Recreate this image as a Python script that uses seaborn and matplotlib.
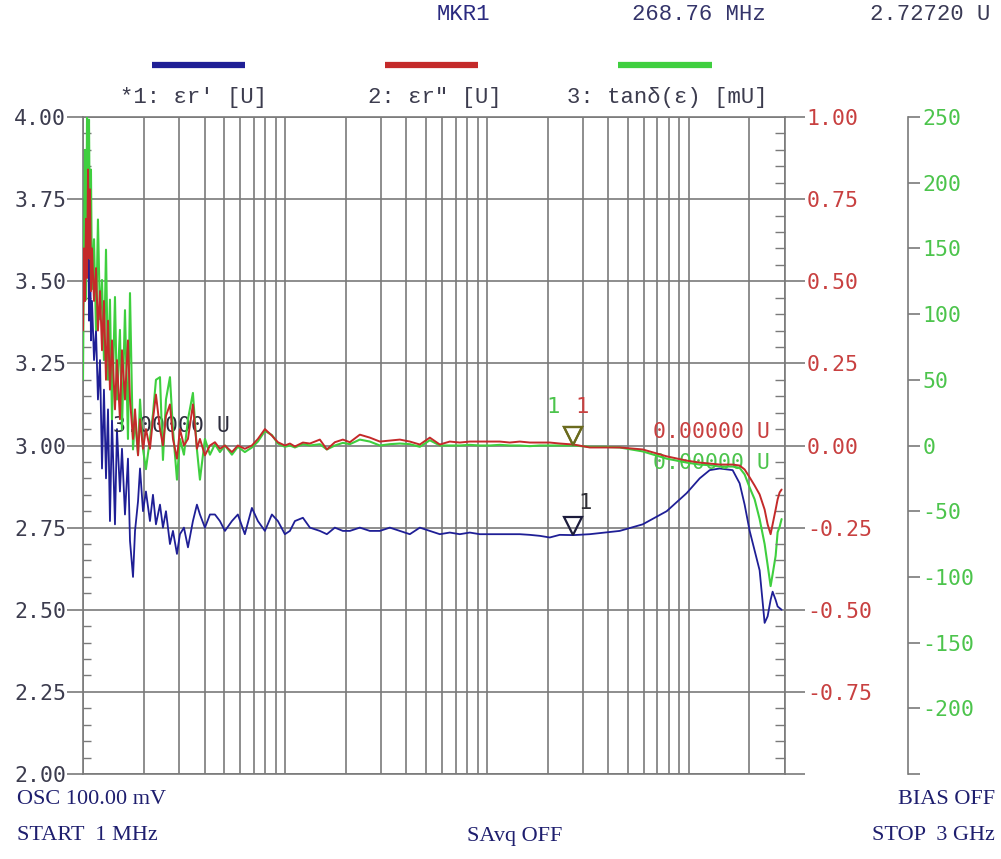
import numpy as np
import pandas as pd
import matplotlib
matplotlib.use("Agg")
import matplotlib.pyplot as plt
import seaborn as sns
from matplotlib.lines import Line2D
from matplotlib.ticker import FixedLocator, MultipleLocator, FuncFormatter, LogLocator
from matplotlib.transforms import offset_copy

freq_mhz = [
    1.000, 1.011, 1.023, 1.035, 1.047, 1.059, 1.071, 1.083, 1.095, 1.108,
    1.134, 1.160, 1.186, 1.214, 1.242, 1.270, 1.300, 1.330, 1.360, 1.392,
    1.440, 1.473, 1.524, 1.560, 1.614, 1.670, 1.709, 1.769, 1.810, 1.873,
    1.916, 1.983, 2.050, 2.146, 2.221, 2.298, 2.406, 2.489, 2.576, 2.696,
    2.790, 2.920, 3.021, 3.162, 3.311, 3.503, 3.667, 3.795, 4.018, 4.254,
    4.503, 4.766, 5.047, 5.465, 5.848, 6.333, 6.864, 7.351, 7.962, 8.622,
    9.233, 10.00, 10.59, 11.21, 12.28, 13.30, 14.90, 16.14, 17.68, 19.37,
    20.98, 23.51, 26.35, 29.53, 33.10, 37.10, 41.57, 46.60, 52.22, 58.53,
    65.59, 73.50, 82.38, 92.33, 103.5, 116.0, 130.0, 145.7, 163.3, 183.0,
    205.1, 229.8, 268.76, 323.5, 383.9, 455.4, 592.0, 778.2, 977.4, 1134,
    1271, 1424, 1651, 1788, 1893, 2005, 2122, 2246, 2378, 2461,
    2546, 2605, 2696, 2758, 2821, 2886,
]
er_real = [
    3.50, 3.75, 3.44, 3.84, 3.56, 3.78, 3.38, 3.66, 3.32, 3.44,
    3.26, 3.35, 3.14, 3.26, 2.93, 3.17, 2.90, 3.11, 2.77, 3.08,
    2.76, 3.05, 2.86, 2.99, 2.79, 2.96, 2.71, 2.60, 2.74, 2.83,
    2.93, 2.80, 2.86, 2.77, 2.85, 2.76, 2.82, 2.75, 2.80, 2.70,
    2.74, 2.67, 2.73, 2.75, 2.69, 2.77, 2.82, 2.79, 2.75, 2.79,
    2.79, 2.77, 2.74, 2.77, 2.79, 2.73, 2.81, 2.77, 2.74, 2.79,
    2.77, 2.73, 2.74, 2.77, 2.78, 2.75, 2.74, 2.73, 2.75, 2.74,
    2.74, 2.75, 2.74, 2.74, 2.75, 2.74, 2.73, 2.75, 2.74, 2.73,
    2.735, 2.73, 2.735, 2.73, 2.73, 2.73, 2.73, 2.73, 2.728, 2.725,
    2.72, 2.728, 2.7272, 2.73, 2.735, 2.74, 2.76, 2.80, 2.855, 2.90,
    2.925, 2.93, 2.925, 2.885, 2.82, 2.74, 2.68, 2.62, 2.46, 2.48,
    2.53, 2.555, 2.53, 2.51, 2.505, 2.50,
]
er_imag = [
    0.35, 0.60, 0.44, 0.69, 0.51, 0.84, 0.57, 0.78, 0.47, 0.60,
    0.44, 0.54, 0.35, 0.47, 0.29, 0.44, 0.20, 0.38, 0.17, 0.32,
    0.11, 0.26, 0.08, 0.29, 0.14, 0.32, 0.14, 0.02, 0.11, -0.03,
    0.08, -0.01, 0.05, -0.01, 0.08, 0.155, 0.05, 0.00, 0.09, 0.125,
    0.02, -0.04, 0.05, 0.00, 0.02, 0.125, -0.01, 0.02, -0.03, 0.00,
    0.01, -0.01, 0.00, -0.02, 0.00, -0.01, 0.00, 0.02, 0.05, 0.03,
    0.01, 0.00, 0.006, -0.003, 0.009, 0.006, 0.018, -0.012, 0.01, 0.018,
    0.01, 0.033, 0.024, 0.012, 0.015, 0.018, 0.012, 0.003, 0.024, 0.003,
    0.012, 0.009, 0.012, 0.012, 0.012, 0.012, 0.009, 0.012, 0.009, 0.009,
    0.009, 0.006, 0.003, -0.006, -0.006, -0.006, -0.012, -0.033, -0.046, -0.052,
    -0.055, -0.058, -0.058, -0.061, -0.073, -0.097, -0.122, -0.149, -0.195, -0.24,
    -0.27, -0.24, -0.195, -0.164, -0.143, -0.134,
]
tan_delta_mu = [
    50, 149, 225, 111, 250, 187, 248, 142, 210, 119,
    157, 88, 172, 96, 126, 65, 149, 50, 111, 20,
    113, 35, 88, 12, 103, 5, 116, -3, 20, -7,
    35, -3, -18, 5, 24, 50, 52, -11, 35, 52,
    12, -26, 5, -7, 20, 40, -3, -26, 5, -7,
    1, -5, 0, -7, -1, -5, -1.5, 3, 11, 8,
    1.5, -1, 0, -1.5, 1, 0, 1, -3, 0, 2,
    1, 4.5, 3, 0, 1, 1.5, 1, -1, 4, 0,
    0, 0, 0.5, 0, 0, 0.5, 0, 0, -0.5, 0,
    0, 0, 0, -1, -1, -1.5, -4.5, -10, -13, -14.5,
    -15, -16, -16, -17, -22, -32, -41, -56, -75, -91,
    -107, -98, -84, -66, -62, -56,
]

marker_freq = 268.76
marker_real = 2.72720
marker_imag = 0.0
marker_tan = 0.0

left_range = (2.0, 4.0)
red_range = (-1.0, 1.0)
green_range = (-250, 250)

trace_labels = ["*1: \u03b5r' [U]", '2: \u03b5r" [U]', "3: tan\u03b4(\u03b5) [mU]"]
header_texts = ["MKR1", "268.76 MHz", "2.72720 U"]
ref_texts = ["3.00000 U", "0.00000 U", "0.00000 U"]
footer_left = ["OSC 100.00 mV", "START  1 MHz"]
footer_mid = "SAvq OFF"
footer_right = ["BIAS OFF", "STOP  3 GHz"]

# ---------------- style ----------------
sns.set_theme(style="white")
plt.rcParams["font.family"] = ["Liberation Mono", "DejaVu Sans Mono", "DejaVu Sans"]
plt.rcParams["axes.unicode_minus"] = False
NUMFAM = ["DejaVu Sans Mono", "DejaVu Sans"]

GRID = "#7a7a7a"
BLUE = "#1f1f96"
RED = "#c42a2a"
GREEN = "#3fcf3f"
LEFTC = "#3c3c4e"
REDC = "#c84040"
GREENC = "#4cc44c"
NAVY = "#2a2a80"
FS = 16
NFS = 15.5

df = pd.DataFrame({"freq": freq_mhz, "er_real": er_real,
                   "er_imag": er_imag, "tan": tan_delta_mu})

fig = plt.figure(figsize=(10.01, 8.59), dpi=100)
fig.patch.set_facecolor("white")
ax = fig.add_axes([83 / 1001, 1 - 774 / 859, 702 / 1001, 657 / 859])
ax3 = ax.twinx()
ax2 = ax.twinx()
for a in (ax, ax2, ax3):
    a.patch.set_visible(False)

ax.set_xscale("log")
ax.set_xlim(1, 3000)

sns.lineplot(data=df, x="freq", y="er_real", ax=ax, color=BLUE, lw=1.3,
             legend=False, estimator=None, sort=False)
sns.lineplot(data=df, x="freq", y="tan", ax=ax3, color=GREEN, lw=1.5,
             legend=False, estimator=None, sort=False)
sns.lineplot(data=df, x="freq", y="er_imag", ax=ax2, color=RED, lw=1.4,
             legend=False, estimator=None, sort=False)
for a in (ax, ax2, ax3):
    a.set_xlabel("")
    a.set_ylabel("")

ax.set_xlim(1, 3000)
ax.set_ylim(*left_range)
ax2.set_ylim(*red_range)
ax3.set_ylim(*green_range)

# grid
ax.xaxis.set_major_locator(LogLocator(base=10))
ax.xaxis.set_minor_locator(LogLocator(base=10, subs=range(2, 10)))
ax.grid(True, which="both", axis="x", color=GRID, lw=1.2)
ax.grid(True, which="major", axis="y", color=GRID, lw=1.2)
ax.tick_params(axis="x", which="both", length=0, labelbottom=False)

# left axis
ax.yaxis.set_major_locator(MultipleLocator(0.25))
ax.yaxis.set_minor_locator(MultipleLocator(0.05))
ax.yaxis.set_major_formatter(FuncFormatter(lambda v, p: f"{v:.2f}"))
ax.tick_params(axis="y", which="major", direction="out", length=11.5, width=1.2,
               color=GRID, pad=0.5, labelsize=NFS, labelcolor=LEFTC, left=True, right=False)
ax.tick_params(axis="y", which="minor", direction="in", length=5.5, width=1.0,
               color=GRID, left=True, right=False)
for s in ("left", "top", "bottom"):
    ax.spines[s].set_color(GRID)
    ax.spines[s].set_linewidth(1.2)
ax.spines["right"].set_visible(False)

# red axis
ax2.yaxis.set_major_locator(MultipleLocator(0.25))
ax2.yaxis.set_minor_locator(MultipleLocator(0.05))
ax2.yaxis.set_major_formatter(FuncFormatter(lambda v, p: "" if v < -0.99 else f"{v:.2f}"))
ax2.tick_params(axis="y", which="major", direction="out", length=14.5, width=1.2,
                color=GRID, pad=1.2, labelsize=NFS, labelcolor=REDC)
ax2.tick_params(axis="y", which="minor", direction="in", length=7, width=1.0, color=GRID)
for s in ("left", "top", "bottom"):
    ax2.spines[s].set_visible(False)
ax2.spines["right"].set_color(GRID)
ax2.spines["right"].set_linewidth(1.2)

# green axis
ax3.spines["right"].set_position(("axes", (908 - 83) / 702))
ax3.yaxis.set_major_locator(MultipleLocator(50))
ax3.yaxis.set_minor_locator(FixedLocator([-250, 250]))
ax3.yaxis.set_major_formatter(FuncFormatter(lambda v, p: "" if v < -249 else f"{v:.0f}"))
ax3.tick_params(axis="y", which="major", direction="out", length=8.5, width=1.2,
                color=GRID, pad=2, labelsize=NFS, labelcolor=GREENC)
ax3.tick_params(axis="y", which="minor", direction="in", length=7, width=1.2, color=GRID)
for s in ("left", "top", "bottom"):
    ax3.spines[s].set_visible(False)
ax3.spines["right"].set_color(GRID)
ax3.spines["right"].set_linewidth(1.2)

for a in (ax, ax2, ax3):
    for lab in a.get_yticklabels():
        lab.set_family(NUMFAM)

# marker triangles and labels
ms = 13
for a, val, edge in [(ax, marker_real, "#1c1c3c"),
                     (ax3, marker_tan, "#6b6b1e"),
                     (ax2, marker_imag, "#6b6b1e")]:
    tr = offset_copy(a.transData, fig=fig, x=0, y=ms * 0.5, units="points")
    a.plot([marker_freq], [val], marker="v", ms=ms, mfc="none", mec=edge,
           mew=1.6, transform=tr, clip_on=False, zorder=5)
ax.annotate("1", xy=(marker_freq, marker_real), xytext=(8, 23),
            textcoords="offset points", ha="center", va="center",
            fontsize=FS, color="#303036", family=NUMFAM)
ax3.annotate("1", xy=(marker_freq, marker_tan), xytext=(-15, 28),
             textcoords="offset points", ha="center", va="center",
             fontsize=FS, color=GREENC, family=NUMFAM)
ax2.annotate("1", xy=(marker_freq, marker_imag), xytext=(6.5, 28),
             textcoords="offset points", ha="center", va="center",
             fontsize=FS, color=REDC, family=NUMFAM)

# reference-value texts
ax.text(0.0427, 0.530, ref_texts[0], transform=ax.transAxes, ha="left", va="center",
        fontsize=NFS, color="#2e2e3e", zorder=6, family=NUMFAM)
ax.text(0.979, 0.521, ref_texts[1], transform=ax.transAxes, ha="right", va="center",
        fontsize=NFS, color=REDC, zorder=6, family=NUMFAM)
ax.text(0.979, 0.473, ref_texts[2], transform=ax.transAxes, ha="right", va="center",
        fontsize=NFS, color=GREENC, zorder=6, family=NUMFAM)

# header
fig.text(437 / 1001, 1 - 14 / 859, header_texts[0], ha="left", va="center",
         fontsize=FS, color=NAVY)
fig.text(632 / 1001, 1 - 14 / 859, header_texts[1], ha="left", va="center",
         fontsize=FS, color="#34346a")
fig.text(870 / 1001, 1 - 14 / 859, header_texts[2], ha="left", va="center",
         fontsize=FS, color="#3a3a55")

# legend bars and labels
for (x0, x1), col, lab, lx in [((152, 245), BLUE, trace_labels[0], 120),
                               ((385, 478), RED, trace_labels[1], 368),
                               ((618, 712), GREEN, trace_labels[2], 567)]:
    fig.add_artist(Line2D([x0 / 1001, x1 / 1001], [1 - 65 / 859, 1 - 65 / 859],
                          transform=fig.transFigure, color=col, lw=4.5,
                          solid_capstyle="butt"))
    fig.text(lx / 1001, 1 - 98 / 859, lab, ha="left", va="center",
             fontsize=FS, color=LEFTC)

# footer
ffam = ["Liberation Serif", "DejaVu Serif"]
FC = "#1e1e6e"
fig.text(17 / 1001, 1 - 800 / 859, footer_left[0], ha="left", va="center",
         fontsize=16, color=FC, family=ffam)
fig.text(17 / 1001, 1 - 836 / 859, footer_left[1], ha="left", va="center",
         fontsize=16, color=FC, family=ffam)
fig.text(515 / 1001, 1 - 836 / 859, footer_mid, ha="center", va="center",
         fontsize=16, color=FC, family=ffam)
fig.text(995 / 1001, 1 - 800 / 859, footer_right[0], ha="right", va="center",
         fontsize=16, color=FC, family=ffam)
fig.text(995 / 1001, 1 - 836 / 859, footer_right[1], ha="right", va="center",
         fontsize=16, color=FC, family=ffam)

fig.savefig("out.png", dpi=100, facecolor="white")
